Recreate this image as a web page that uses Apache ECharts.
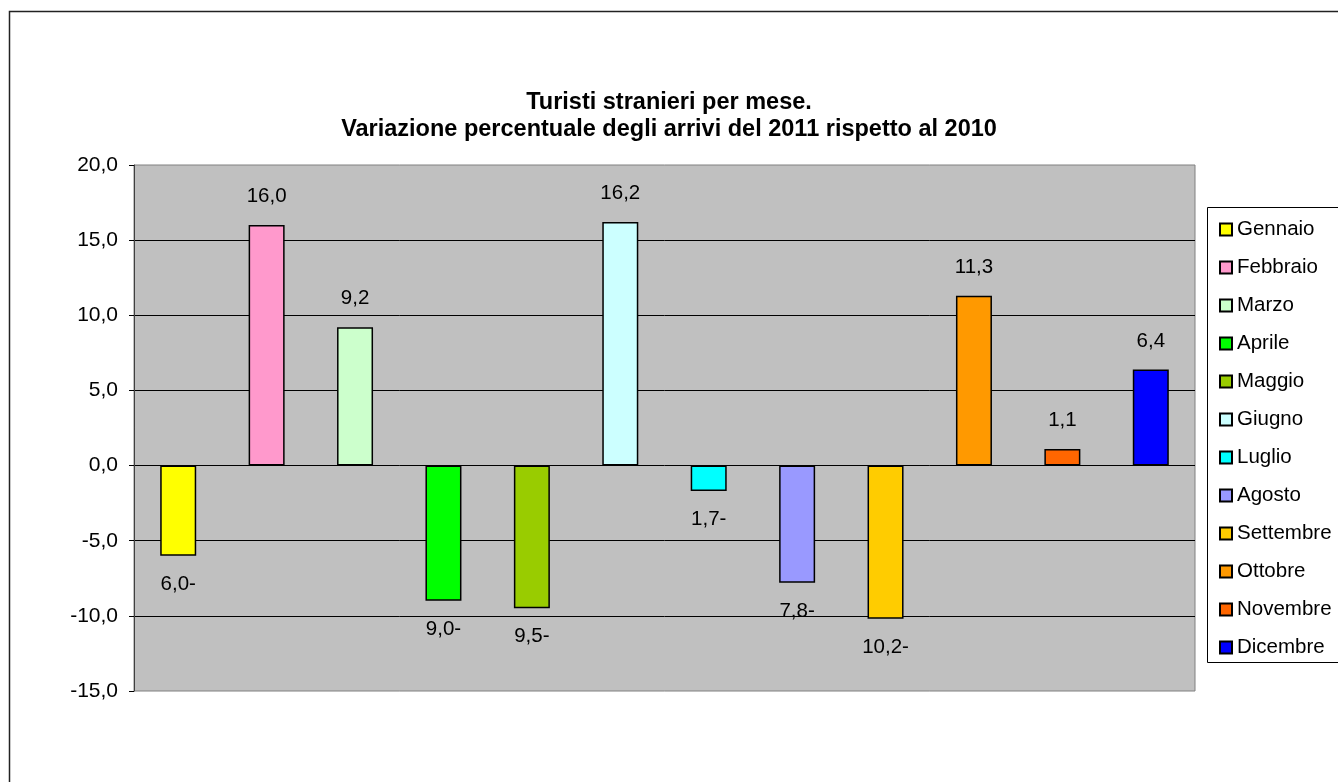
<!DOCTYPE html>
<html>
<head>
<meta charset="utf-8">
<title>Turisti stranieri per mese</title>
<script src="https://cdn.jsdelivr.net/npm/echarts@6/dist/echarts.min.js"></script>
<style>
  html, body { margin: 0; padding: 0; background: #fff; }
  #container { width: 1338px; height: 782px; }
</style>
</head>
<body>
<div id="container"></div>
<script>
// mesi e variazione % arrivi 2011 su 2010
const months = ['Gennaio', 'Febbraio', 'Marzo', 'Aprile', 'Maggio', 'Giugno',
  'Luglio', 'Agosto', 'Settembre', 'Ottobre', 'Novembre', 'Dicembre']
const values = [-6.0, 16.0, 9.2, -9.0, -9.5, 16.2, -1.7, -7.8, -10.2, 11.3, 1.1, 6.4]
const colors = ['#FFFF00', '#FF99CC', '#CCFFCC', '#00FF00', '#99CC00', '#CCFFFF',
  '#00FFFF', '#9999FF', '#FFCC00', '#FF9900', '#FF6600', '#0000FF']
const yTicks = [-15, -10, -5, 0, 5, 10, 15, 20]

const FONT = 'Liberation Sans, Arial, sans-serif'

// Excel mostra i negativi come "6,0-"
const fmt = v => {
  const s = Math.abs(v).toFixed(1).replace('.', ',')
  return v < 0 ? s + '-' : s
}

const series = months.map((name, i) => ({
  name,
  type: 'bar',
  stack: 'all',
  barWidth: 36,
  itemStyle: { color: colors[i], borderColor: '#000', borderWidth: 1.5 },
  label: {
    show: true,
    position: values[i] < 0 ? 'bottom' : 'top',
    distance: 18,
    formatter: p => fmt(p.value),
    color: '#000',
    fontFamily: FONT,
    fontSize: 20.5,
  },
  data: months.map((m, j) => (j === i ? values[i] : '-')),
}))

const chart = echarts.init(document.getElementById('container'))
chart.setOption({
  animation: false,
  textStyle: { fontFamily: FONT },
  title: {
    text: 'Turisti stranieri per mese.\nVariazione percentuale degli arrivi del 2011 rispetto al 2010',
    left: 'center',
    top: 84,
    textStyle: { fontFamily: FONT, fontSize: 23.5, fontWeight: 'bold', lineHeight: 27, color: '#000' },
  },
  graphic: [
    {
      type: 'rect', z: 0, silent: true,
      shape: { x: 9.5, y: 11.5, width: 1400, height: 800 },
      style: { fill: 'none', stroke: '#222', lineWidth: 1.5 },
    },
    {
      type: 'rect', z: 0, silent: true,
      shape: { x: 1207.5, y: 207.5, width: 200, height: 455 },
      style: { fill: 'none', stroke: '#000', lineWidth: 1 },
    },
  ],
  legend: {
    orient: 'vertical',
    left: 1214,
    top: 214,
    itemWidth: 12,
    itemHeight: 12,
    itemGap: 17,
    icon: 'rect',
    textStyle: { fontFamily: FONT, fontSize: 20.5, lineHeight: 20, color: '#000' },
    data: months,
  },
  grid: {
    left: 134, top: 165, right: 143, bottom: 91,
    show: true, backgroundColor: '#C0C0C0', borderColor: '#808080', borderWidth: 1,
  },
  xAxis: {
    type: 'category',
    data: months,
    axisLabel: { show: false },
    axisTick: { show: false },
    axisLine: { show: false },
  },
  yAxis: {
    type: 'value',
    min: yTicks[0],
    max: yTicks[yTicks.length - 1],
    interval: 5,
    axisLine: { show: true, lineStyle: { color: '#404040', width: 1 } },
    axisTick: { show: true, length: 5, lineStyle: { color: '#000' } },
    axisLabel: {
      margin: 16, color: '#000', fontFamily: FONT, fontSize: 21,
      formatter: v => v.toFixed(1).replace('.', ','),
    },
    splitLine: { show: true, showMinLine: false, showMaxLine: false, lineStyle: { color: '#000', width: 1 } },
  },
  series,
})
</script>
</body>
</html>
